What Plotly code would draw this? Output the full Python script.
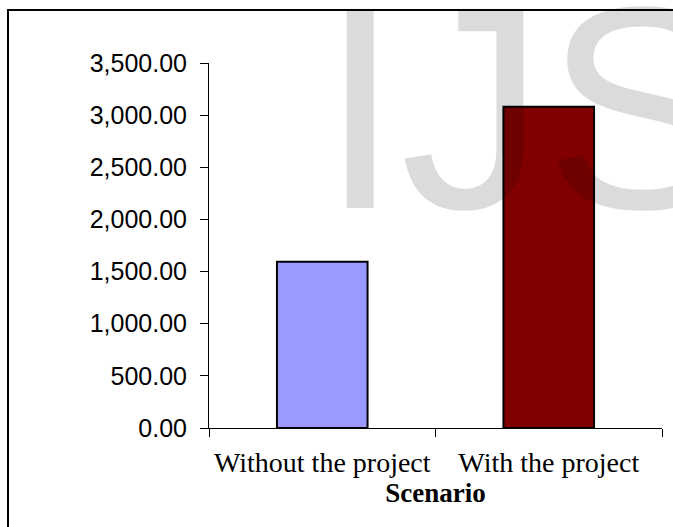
import plotly.graph_objects as go

# Scenario comparison data
scenarios = ["Without the project", "With the project"]
values = [1595, 3080]
bar_colors = ["#9999FF", "#800000"]
y_ticks = [0, 500, 1000, 1500, 2000, 2500, 3000, 3500]

W, H = 673, 527
L, R, T, B = 209, 11, 63, 98.5
pw, ph = W - L - R, H - T - B


def px_to_paper_x(px):
    return (px - L) / pw


def px_to_paper_y(py):
    return (H - B - py) / ph


fig = go.Figure(
    go.Bar(
        x=scenarios,
        y=values,
        width=0.4,
        marker=dict(color=bar_colors, line=dict(color="black", width=2)),
    )
)

fig.update_layout(
    width=W,
    height=H,
    margin=dict(l=L, r=R, t=T, b=B, pad=0),
    paper_bgcolor="white",
    plot_bgcolor="white",
    showlegend=False,
    xaxis=dict(
        range=[-0.5, 1.5],
        showline=True,
        linecolor="black",
        linewidth=1,
        ticks="outside",
        tickson="boundaries",
        ticklen=8,
        tickcolor="black",
        ticklabelstandoff=9,
        showgrid=False,
        tickfont=dict(family="Liberation Serif", size=28, color="black"),
        title=dict(
            text="<b>Scenario</b>",
            font=dict(family="Liberation Serif", size=27, color="black"),
            standoff=0,
        ),
    ),
    yaxis=dict(
        range=[0, 3500],
        tickvals=y_ticks,
        tickformat=",.2f",
        showline=True,
        linecolor="black",
        linewidth=1,
        ticks="outside",
        ticklen=8,
        tickcolor="black",
        ticklabelstandoff=8,
        showgrid=False,
        zeroline=False,
        tickfont=dict(family="Liberation Sans", size=25, color="black"),
    ),
    shapes=[
        dict(
            type="rect",
            xref="paper",
            yref="paper",
            x0=px_to_paper_x(8),
            x1=px_to_paper_x(740),
            y0=px_to_paper_y(580),
            y1=px_to_paper_y(10),
            line=dict(color="black", width=2),
            fillcolor="rgba(0,0,0,0)",
        )
    ],
    annotations=[
        dict(
            text="IJS",
            xref="paper",
            yref="paper",
            x=px_to_paper_x(318),
            y=px_to_paper_y(108),
            xanchor="left",
            yanchor="middle",
            showarrow=False,
            font=dict(family="Liberation Sans", size=289, color="rgba(0,0,0,0.14)"),
        )
    ],
)

fig.write_html("out.html")
